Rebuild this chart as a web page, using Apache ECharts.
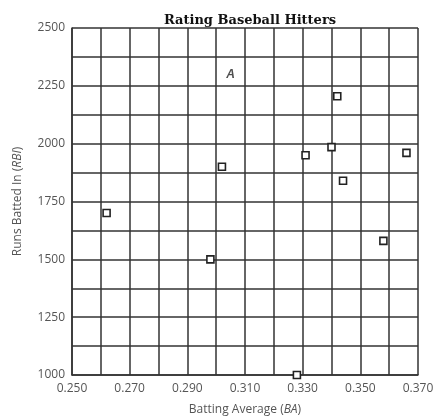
<!DOCTYPE html>
<html>
<head>
<meta charset="utf-8">
<script src="https://cdn.jsdelivr.net/npm/echarts@6/dist/echarts.min.js"></script>
<style>
  html, body { margin: 0; padding: 0; background: #fff; }
  #chart { width: 433px; height: 416px; }
</style>
</head>
<body>
<div id="chart"></div>
<script>
// batting average (BA) and runs batted in (RBI) for each hitter
const battingAvg = [0.262, 0.298, 0.302, 0.331, 0.340, 0.344, 0.358, 0.366, 0.342, 0.328];
const runsBatted = [1700, 1500, 1900, 1950, 1985, 1840, 1580, 1960, 2205, 1000];
// point labelled "A"
const labelA = { name: 'A', ba: 0.305, rbi: 2300 };

const points = battingAvg.map((ba, i) => [ba, runsBatted[i]]);

let chart = echarts.init(document.getElementById('chart'));
let labelFont = 'Open Sans';

let option = {
    animation: false,
    title: {
        text: 'Rating Baseball Hitters',
        left: 245,
        top: 9,
        textAlign: 'center',
        textStyle: {
            fontFamily: 'DejaVu Serif',
            fontWeight: 'bold',
            fontSize: 13,
            color: '#111'
        }
    },
    grid: {
        left: 72,
        right: 15,
        top: 28,
        bottom: 41,
        outerBoundsMode: 'none',
        containLabel: false
    },
    xAxis: {
        type: 'value',
        min: 0.25,
        max: 0.37,
        interval: 0.01,
        name: 'Batting Average ({i|BA})',
        nameLocation: 'middle',
        nameGap: 29,
        nameTextStyle: {
            fontFamily: labelFont,
            fontSize: 12,
            color: '#555',
            rich: { i: { fontStyle: 'italic', fontFamily: labelFont, fontSize: 12, color: '#555' } }
        },
        axisLine: { show: true, lineStyle: { color: '#333', width: 1.5 } },
        axisTick: { show: false },
        axisLabel: {
            fontFamily: labelFont,
            fontSize: 12,
            color: '#555',
            margin: 8,
            // label every other line: 0.250, 0.270, ...
            formatter: v => (Math.round(v * 1000) % 20 === 10 ? v.toFixed(3) : '')
        },
        splitLine: { lineStyle: { color: '#333', width: 1.5, type: 'solid' } }
    },
    yAxis: {
        type: 'value',
        min: 1000,
        max: 2500,
        interval: 125,
        name: 'Runs Batted In ({i|RBI})',
        nameLocation: 'middle',
        nameGap: 48,
        nameTextStyle: {
            fontFamily: labelFont,
            fontSize: 12,
            color: '#555',
            rich: { i: { fontStyle: 'italic', fontFamily: labelFont, fontSize: 12, color: '#555' } }
        },
        axisLine: { show: true, lineStyle: { color: '#333', width: 1.5 } },
        axisTick: { show: false },
        axisLabel: {
            fontFamily: labelFont,
            fontSize: 12,
            color: '#555',
            margin: 7,
            formatter: v => (v % 250 === 0 ? String(v) : '')
        },
        splitLine: { lineStyle: { color: '#333', width: 1.5, type: 'solid' } }
    },
    series: [
        {
            type: 'scatter',
            data: points,
            symbol: 'rect',
            symbolSize: 7,
            z: 5,
            itemStyle: {
                color: '#fff',
                borderColor: '#222',
                borderWidth: 1.6,
                opacity: 1
            }
        },
        {
            type: 'scatter',
            data: [[labelA.ba, labelA.rbi]],
            symbolSize: 0,
            label: {
                show: true,
                position: 'inside',
                formatter: labelA.name,
                fontFamily: 'Liberation Sans',
                fontStyle: 'italic',
                fontWeight: 'bold',
                fontSize: 12,
                color: '#222'
            }
        }
    ]
};
chart.setOption(option);
</script>
</body>
</html>
